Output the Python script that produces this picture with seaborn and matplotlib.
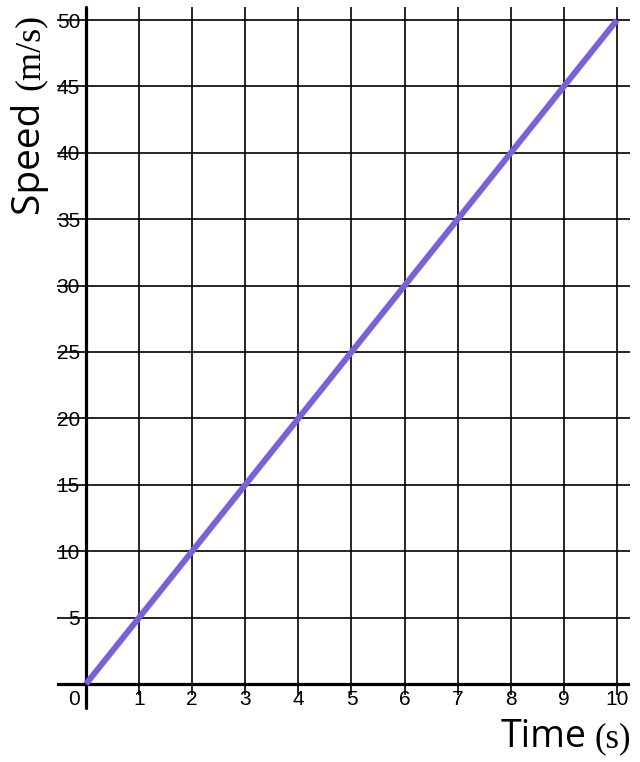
import matplotlib
matplotlib.use("Agg")
import matplotlib.pyplot as plt
import seaborn as sns
import pandas as pd

time_s = [0, 1, 2, 3, 4, 5, 6, 7, 8, 9, 10]
speed_ms = [0, 5, 10, 15, 20, 25, 30, 35, 40, 45, 50]
x_ticks = [1, 2, 3, 4, 5, 6, 7, 8, 9, 10]
y_ticks = [5, 10, 15, 20, 25, 30, 35, 40, 45, 50]

sns.set_style("white")
plt.rcParams['font.family'] = ['Liberation Sans', 'DejaVu Sans']

W, H = 640, 762
fig = plt.figure(figsize=(W / 100, H / 100), dpi=100)
# axes box in pixels: left 57, right 630, top 7, bottom 695
ax = fig.add_axes([57 / W, (H - 695) / H, (630 - 57) / W, (695 - 7) / H])

df = pd.DataFrame({"Time": time_s, "Speed": speed_ms})
sns.lineplot(data=df, x="Time", y="Speed", ax=ax, color="#7b61d9",
             linewidth=4.3, zorder=5, solid_capstyle="butt")

ax.set_xlim(-0.546, 10.245)
ax.set_ylim(-0.83, 50.98)
ax.set_xticks(x_ticks)
ax.set_yticks(y_ticks)
ax.set_xticklabels([str(v) for v in x_ticks])
ax.set_yticklabels([str(v) for v in y_ticks])
ax.grid(True, color="black", linewidth=1.2)
ax.set_axisbelow(True)
for s in ax.spines.values():
    s.set_visible(False)
ax.tick_params(axis="y", length=0, pad=-16.6, labelsize=15, labelcolor="black")
ax.tick_params(axis="x", length=0, pad=-3.6, labelsize=15, labelcolor="black")
ax.set_xlabel("")
ax.set_ylabel("")

# main axis lines at zero
ax.axhline(0, color="black", linewidth=2.3, zorder=3)
ax.axvline(0, ymin=-0.019, ymax=1.0, color="black", linewidth=2.3, zorder=3, clip_on=False)

ax.annotate("0", xy=(0, 0), xytext=(-12, -16), textcoords="offset pixels",
            ha="center", va="center", fontsize=15, color="black")

# axis titles
fig.text(501 / W, (H - 747) / H, "Time", family=["Open Sans", "DejaVu Sans"],
         fontsize=27, ha="left", va="baseline", color="black")
fig.text(595 / W, (H - 747) / H, "(s)", family=["Liberation Serif", "DejaVu Serif"],
         fontsize=25, ha="left", va="baseline", color="black")
fig.text(38 / W, (H - 213) / H, "Speed", family=["Open Sans", "DejaVu Sans"],
         fontsize=28, rotation=90, rotation_mode="anchor", ha="left", va="baseline",
         color="black")
fig.text(39 / W, (H - 90) / H, "(m/s)", family=["Liberation Serif", "DejaVu Serif"],
         fontsize=26, rotation=90, rotation_mode="anchor", ha="left", va="baseline",
         color="black")

fig.savefig("out.png", dpi=100)
